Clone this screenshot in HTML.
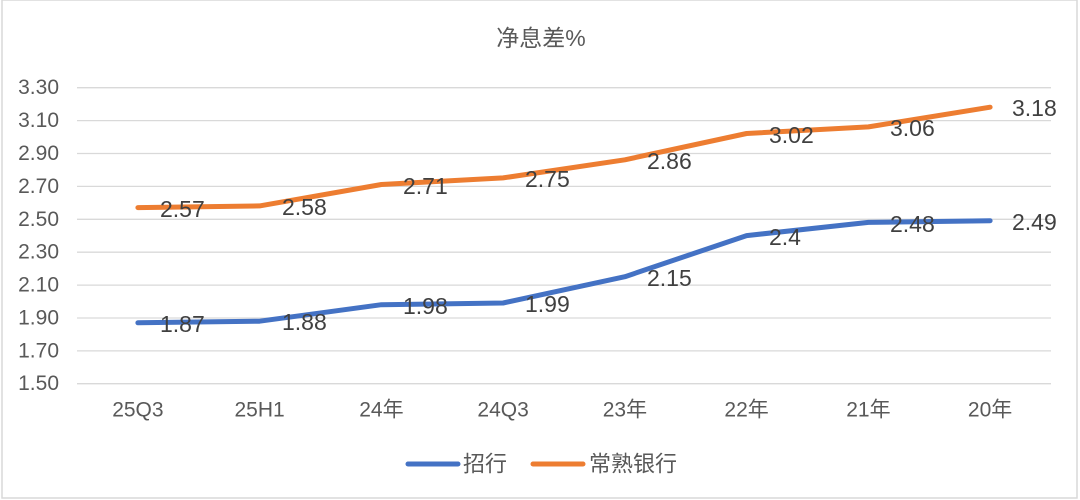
<!DOCTYPE html>
<html><head><meta charset="utf-8"><style>
html,body{margin:0;padding:0;background:#fff;}
svg{display:block;font-family:"Liberation Sans","Noto Sans CJK SC",sans-serif;}
</style></head><body>
<svg width="1080" height="500" viewBox="0 0 1080 500" xmlns="http://www.w3.org/2000/svg">
<rect x="2" y="0" width="1075" height="498" fill="#fff" stroke="#d9d9d9" stroke-width="1.5"/>
<text x="541" y="38" text-anchor="middle" dominant-baseline="central" font-size="23" fill="#595959">净息差%</text>
<g stroke="#d9d9d9" stroke-width="1.3">
<line x1="77" x2="1051" y1="87.7" y2="87.7"/><line x1="77" x2="1051" y1="120.6" y2="120.6"/>
<line x1="77" x2="1051" y1="153.5" y2="153.5"/><line x1="77" x2="1051" y1="186.4" y2="186.4"/>
<line x1="77" x2="1051" y1="219.3" y2="219.3"/><line x1="77" x2="1051" y1="252.2" y2="252.2"/>
<line x1="77" x2="1051" y1="285.1" y2="285.1"/><line x1="77" x2="1051" y1="318" y2="318"/>
<line x1="77" x2="1051" y1="350.9" y2="350.9"/><line x1="77" x2="1051" y1="383.7" y2="383.7"/>
</g>
<g font-size="21" fill="#595959" text-anchor="end" dominant-baseline="central">
<text x="59" y="87.7">3.30</text><text x="59" y="120.6">3.10</text><text x="59" y="153.5">2.90</text>
<text x="59" y="186.4">2.70</text><text x="59" y="219.3">2.50</text><text x="59" y="252.2">2.30</text>
<text x="59" y="285.1">2.10</text><text x="59" y="318">1.90</text><text x="59" y="350.9">1.70</text>
<text x="59" y="383.7">1.50</text>
</g>
<g font-size="21" fill="#595959" text-anchor="middle" dominant-baseline="central">
<text x="137.9" y="410">25Q3</text><text x="259.6" y="410">25H1</text><text x="381.4" y="410">24年</text>
<text x="503.1" y="410">24Q3</text><text x="624.9" y="410">23年</text><text x="746.6" y="410">22年</text>
<text x="868.4" y="410">21年</text><text x="990.1" y="410">20年</text>
</g>
<polyline fill="none" stroke="#ed7d31" stroke-width="5" stroke-linecap="round" stroke-linejoin="round"
points="137.9,207.6 259.6,205.9 381.4,184.5 503.1,177.9 624.9,159.8 746.6,133.5 868.4,126.9 990.1,107.2"/>
<polyline fill="none" stroke="#4472c4" stroke-width="5" stroke-linecap="round" stroke-linejoin="round"
points="137.9,322.8 259.6,321.2 381.4,304.7 503.1,303 624.9,276.7 746.6,235.6 868.4,222.4 990.1,220.7"/>
<g font-size="23" fill="#404040" dominant-baseline="central">
<text x="160" y="209">2.57</text><text x="282" y="207">2.58</text><text x="403" y="186">2.71</text>
<text x="525" y="179">2.75</text><text x="647" y="161">2.86</text><text x="769" y="135">3.02</text>
<text x="890" y="128">3.06</text><text x="1012" y="108">3.18</text>
<text x="160" y="324">1.87</text><text x="282" y="322">1.88</text><text x="403" y="306">1.98</text>
<text x="525" y="304">1.99</text><text x="647" y="278">2.15</text><text x="769" y="237">2.4</text>
<text x="890" y="224">2.48</text><text x="1012" y="222">2.49</text>
</g>
<line x1="408" x2="458" y1="464" y2="464" stroke="#4472c4" stroke-width="5" stroke-linecap="round"/>
<text x="463" y="464" font-size="22" fill="#595959" dominant-baseline="central">招行</text>
<line x1="533" x2="583" y1="464" y2="464" stroke="#ed7d31" stroke-width="5" stroke-linecap="round"/>
<text x="589" y="464" font-size="22" fill="#595959" dominant-baseline="central">常熟银行</text>
</svg>
</body></html>
